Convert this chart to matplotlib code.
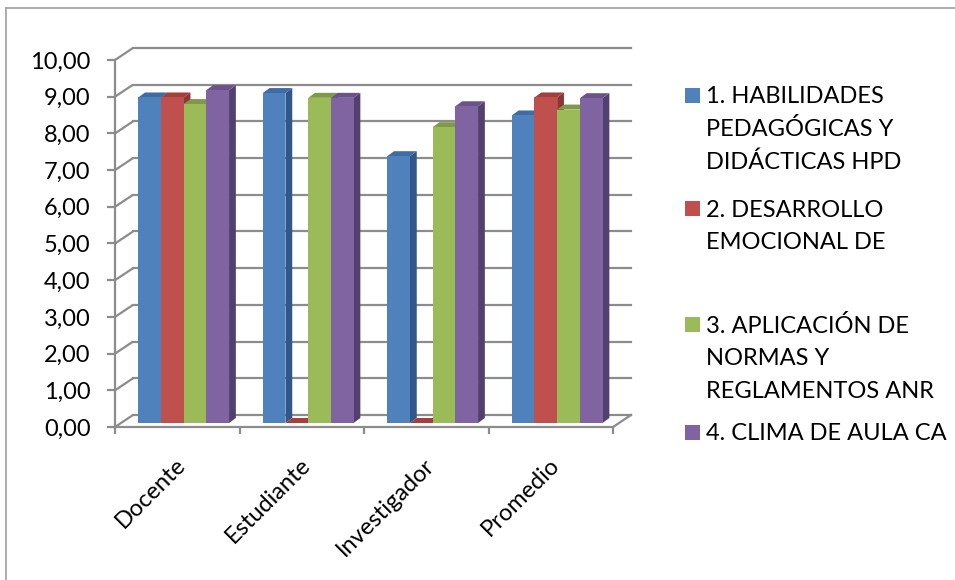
import matplotlib
matplotlib.use("Agg")
import matplotlib.pyplot as plt
from matplotlib.patches import Polygon, Rectangle
from matplotlib.lines import Line2D
from matplotlib.transforms import ScaledTranslation
import numpy as np

# ---- data ----
categories = ["Docente", "Estudiante", "Investigador", "Promedio"]
series_names = [
    "1. HABILIDADES\nPEDAGÓGICAS Y\nDIDÁCTICAS HPD",
    "2. DESARROLLO\nEMOCIONAL DE",
    "3. APLICACIÓN DE\nNORMAS Y\nREGLAMENTOS ANR",
    "4. CLIMA DE AULA CA",
]
hpd = [8.87, 8.99, 7.27, 8.38]
emo = [8.87, 0.00, 0.00, 8.87]
anr = [8.69, 8.86, 8.06, 8.54]
clima = [9.07, 8.86, 8.63, 8.85]
series_values = [hpd, emo, anr, clima]
y_ticks = [0, 1, 2, 3, 4, 5, 6, 7, 8, 9, 10]
y_tick_labels = ["0,00", "1,00", "2,00", "3,00", "4,00", "5,00",
                 "6,00", "7,00", "8,00", "9,00", "10,00"]

# ---- styles ----
front_cols = ["#4F81BD", "#C0504D", "#9BBB59", "#8064A2"]
side_cols = ["#30578A", "#8E3633", "#6F8A3C", "#52406E"]
top_cols = ["#3E6CA3", "#A33F3C", "#7E9A47", "#6A5389"]
grid_col = "#8C8C8C"
FONT = "Lato"
FS = 17

fig = plt.figure(figsize=(9.55, 5.8), dpi=100)
W, H = 955, 580
PXX, PXY = 124.5, 36.7     # pixels per category / per value unit
X0, Y0 = 115, 427          # pixel of data origin
# axes: px 100..645 horizontally, 30..435 vertically
ax = fig.add_axes([100 / W, (H - 435) / H, 545 / W, 405 / H])
ax.set_xlim((100 - X0) / PXX, (645 - X0) / PXX)
ax.set_ylim((Y0 - 435) / PXY, (Y0 - 30) / PXY)

ncat = len(categories)
DX, DY = 18 / PXX, 12 / PXY             # wall depth offset
fx, fy = 6.4 / PXX, 4 / PXY             # bar front offset
bdx, bdy = 6.8 / PXX, 5 / PXY           # bar depth
w = 22.7 / PXX

# back wall gridlines and left wall diagonals
for v in y_ticks:
    ax.plot([0, DX], [v, v + DY], color=grid_col, lw=1.6, zorder=1, solid_capstyle="butt")
    ax.plot([DX, ncat + DX], [v + DY, v + DY], color=grid_col, lw=1.6, zorder=1)
ax.plot([ncat, ncat + DX], [0, DY], color=grid_col, lw=1.6, zorder=1)

# bars
z = 2
centers = np.arange(ncat) + 0.5
for c in range(ncat):
    for s, vals in enumerate(series_values):
        v = vals[c]
        xc = centers[c] + (s - 1.5) * w + fx
        xl, xr = xc - w / 2, xc + w / 2
        side = Polygon([(xr, fy), (xr + bdx, fy + bdy), (xr + bdx, v + fy + bdy), (xr, v + fy)],
                       closed=True, facecolor=side_cols[s], edgecolor="none", zorder=z)
        top = Polygon([(xl, v + fy), (xr, v + fy), (xr + bdx, v + fy + bdy), (xl + bdx, v + fy + bdy)],
                      closed=True, facecolor=top_cols[s], edgecolor="none", zorder=z)
        ax.add_patch(side)
        ax.add_patch(top)
        ax.bar([xc], [v], width=w, bottom=fy, color=front_cols[s], edgecolor="none",
               zorder=z + 0.5, linewidth=0)
        z += 1

# spines / axes
for sp in ["top", "right"]:
    ax.spines[sp].set_visible(False)
ax.spines["left"].set_position(("data", 0))
ax.spines["bottom"].set_position(("data", 0))
ax.spines["left"].set_bounds(0, 10)
ax.spines["bottom"].set_bounds(0, ncat)
for sp in ["left", "bottom"]:
    ax.spines[sp].set_color(grid_col)
    ax.spines[sp].set_linewidth(1.6)
    ax.spines[sp].set_zorder(100)
ax.patch.set_visible(False)

ax.set_yticks(y_ticks)
ax.set_yticklabels(y_tick_labels, fontfamily=FONT, fontsize=FS)
ax.tick_params(axis="y", direction="out", length=5.5, width=1.6, color=grid_col, pad=12)

ax.set_xticks(range(ncat + 1), minor=True)
ax.tick_params(axis="x", which="minor", direction="out", length=5, width=1.6, color=grid_col)
ax.set_xticks(centers)
ax.set_xticklabels(categories, fontfamily=FONT, fontsize=FS, rotation=45,
                   ha="right", va="center", rotation_mode="anchor")
ax.tick_params(axis="x", which="major", length=0, pad=25)
for lab in ax.get_xticklabels():
    lab.set_transform(lab.get_transform() + ScaledTranslation(5 / 100, 0, fig.dpi_scale_trans))

# legend (manual, Excel style)
entry_y = [95, 208, 324, 432]
line_h = 32.5
for s, name in enumerate(series_names):
    y0 = entry_y[s]
    fig.patches.append(Rectangle((685 / W, 1 - (y0 + 7.5) / H), 15 / W, 15 / H,
                                 transform=fig.transFigure, facecolor=front_cols[s],
                                 edgecolor="none"))
    for k, line in enumerate(name.split("\n")):
        fig.text(706 / W, 1 - (y0 + k * line_h) / H, line, fontfamily=FONT, fontsize=FS,
                 ha="left", va="center_baseline", color="black")

# outer frame (left and top edges visible)
fig.add_artist(Line2D([6 / W, 6 / W], [0, 1 - 8 / H], transform=fig.transFigure,
                      color="#A0A0A0", lw=1.2))
fig.add_artist(Line2D([6 / W, 1], [1 - 8 / H, 1 - 8 / H], transform=fig.transFigure,
                      color="#A0A0A0", lw=1.2))

fig.savefig("out.png", dpi=100, facecolor="white")
